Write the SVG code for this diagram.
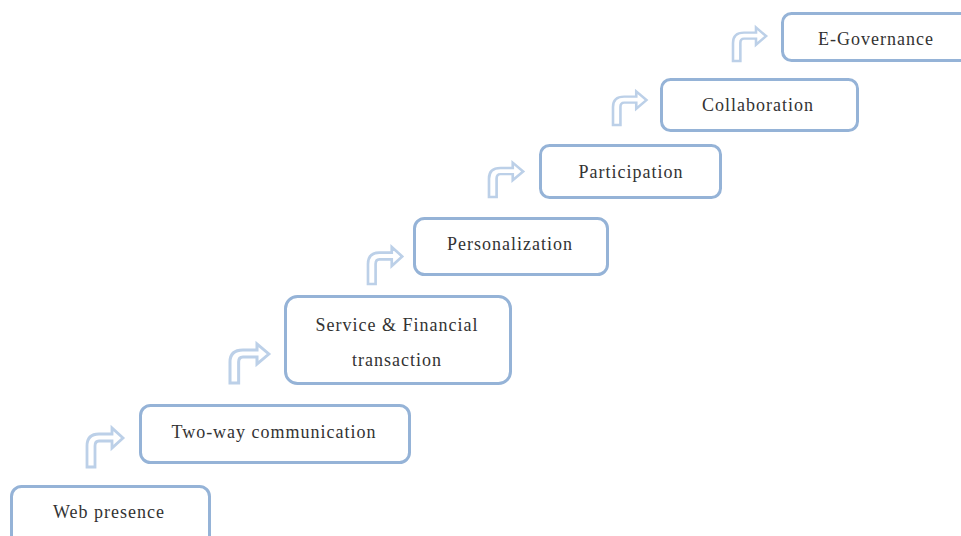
<svg xmlns="http://www.w3.org/2000/svg" width="961" height="536" viewBox="0 0 961 536">
<defs>
<style>
.box{fill:#ffffff;stroke:#95b3d7;stroke-width:3}
.lbl{font-family:"Liberation Serif","DejaVu Serif",serif;font-size:18px;fill:#333333;text-anchor:middle;letter-spacing:1px}
.arr{fill:#ffffff;stroke:#bcd0e8;stroke-width:2.8;stroke-linejoin:miter}
</style>
<path id="bent" d="M0,0 L0,-21 Q0,-33 12,-33 L25,-33 L25,-39 L36,-29 L25,-19 L25,-26 L12,-26 Q8,-26 8,-21 L8,0 Z"/>
</defs>
<rect width="961" height="536" fill="#ffffff"/>
<g id="connectors">
<use href="#bent" class="arr" transform="translate(87,467)"/>
<use href="#bent" class="arr" transform="translate(230,383) scale(1.08,1)"/>
<use href="#bent" class="arr" transform="translate(368,284) scale(0.95)"/>
<use href="#bent" class="arr" transform="translate(489,197) scale(0.95,0.88)"/>
<use href="#bent" class="arr" transform="translate(613,125) scale(0.93,0.86)"/>
<use href="#bent" class="arr" transform="translate(733,61) scale(0.92,0.86)"/>
</g>
<g id="web-presence">
<rect class="box" x="11.5" y="486.5" width="198" height="70" rx="10"/>
<text class="lbl" x="109" y="518">Web presence</text>
</g>
<g id="two-way-communication">
<rect class="box" x="140.5" y="405.5" width="269" height="57" rx="10"/>
<text class="lbl" x="274" y="438">Two-way communication</text>
</g>
<g id="service-financial">
<rect class="box" x="285.5" y="296.5" width="225" height="87" rx="12"/>
<text class="lbl" x="397" y="331">Service &amp; Financial</text>
<text class="lbl" x="397" y="366">transaction</text>
</g>
<g id="personalization">
<rect class="box" x="414.5" y="218.5" width="193" height="56" rx="10"/>
<text class="lbl" x="510" y="250">Personalization</text>
</g>
<g id="participation">
<rect class="box" x="540.5" y="145.5" width="180" height="52" rx="9"/>
<text class="lbl" x="631" y="178">Participation</text>
</g>
<g id="collaboration">
<rect class="box" x="661.5" y="79.5" width="196" height="51" rx="9"/>
<text class="lbl" x="758" y="111">Collaboration</text>
</g>
<g id="e-governance">
<rect class="box" x="782.5" y="13.5" width="200" height="47" rx="9"/>
<text class="lbl" x="876" y="45">E-Governance</text>
</g>
</svg>
